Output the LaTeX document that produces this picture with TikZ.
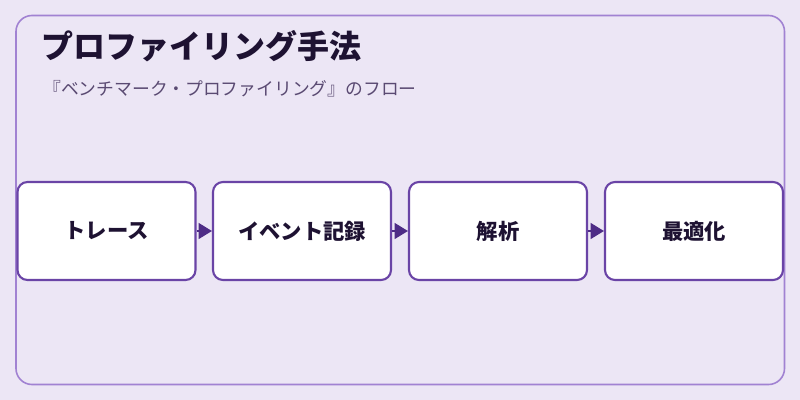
\documentclass[tikz,border=0pt]{standalone}
\usepackage{fontspec}
\setmainfont{Noto Sans CJK JP}
\usetikzlibrary{arrows.meta}
\definecolor{bgc}{HTML}{ECE6F5}
\definecolor{panelc}{HTML}{A182D2}
\definecolor{boxc}{HTML}{6A44A6}
\definecolor{arrowc}{HTML}{4E2C86}
\definecolor{titlec}{HTML}{1E1232}
\definecolor{subc}{HTML}{5A4A72}
\tikzset{
  stepbox/.style={draw=boxc, line width=1.6pt, fill=white, rounded corners=7.5pt,
    minimum width=178*0.75pt, minimum height=98*0.75pt, inner sep=0pt,
    font=\bfseries\fontsize{16pt}{19pt}\selectfont, text=titlec},
  flow/.style={draw=arrowc, line width=1pt, -{Triangle[length=10pt,width=12pt]}, arrowc}
}
\begin{document}
\begin{tikzpicture}[x=0.75pt,y=-0.75pt]
\useasboundingbox (0,0) rectangle (800,400);
\fill[bgc] (0,0) rectangle (800,400);
\draw[panelc, line width=1.2pt, rounded corners=12pt] (16,15.5) rectangle (784.5,384.5);
\node[anchor=west, text=titlec, font=\bfseries\fontsize{24pt}{28pt}\selectfont, inner sep=0pt] (title) at (41,46) {プロファイリング手法};
\node[anchor=west, text=subc, font=\fontsize{13.35pt}{16pt}\selectfont, inner sep=0pt] (sub) at (43,89) {『ベンチマーク・プロファイリング』のフロー};
\node[stepbox] (b1) at (106.5,231) {トレース};
\node[stepbox] (b2) at (302,231) {イベント記録};
\node[stepbox] (b3) at (498,231) {解析};
\node[stepbox] (b4) at (694,231) {最適化};
\draw[flow] (b1.east) -- (b2.west);
\draw[flow] (b2.east) -- (b3.west);
\draw[flow] (b3.east) -- (b4.west);
\end{tikzpicture}
\end{document}
